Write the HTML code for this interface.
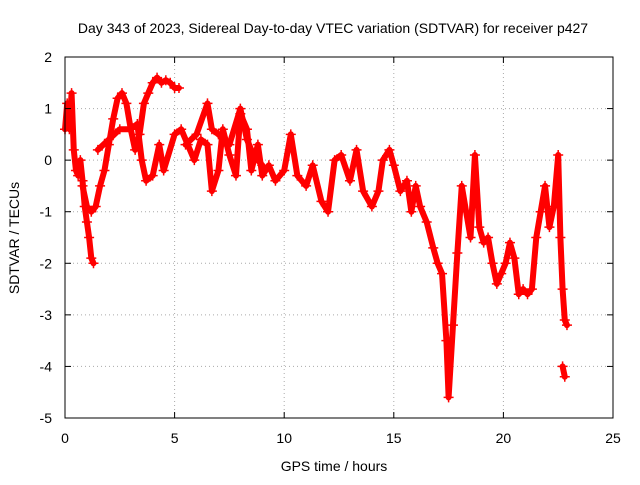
<!DOCTYPE html>
<html><head><meta charset="utf-8"><style>
body{margin:0;background:#fff;}
svg text{font-family:"Liberation Sans",sans-serif;font-size:14px;fill:#000;}
</style></head><body>
<svg id="chart" width="640" height="480">
<rect width="640" height="480" fill="#fff"/>
<text x="333" y="33" text-anchor="middle">Day 343 of 2023, Sidereal Day-to-day VTEC variation (SDTVAR) for receiver p427</text>
<text x="334" y="471" text-anchor="middle">GPS time / hours</text>
<text transform="translate(19,238) rotate(-90)" text-anchor="middle">SDTVAR / TECUs</text>
<g id="grid"></g><g id="series"></g>
<rect x="65" y="57" width="548" height="361" fill="none" stroke="#000"/>
<g id="ticks"></g>
</svg>
<script>
const xTicks=[0,5,10,15,20,25];
const yTicks=[2,1,0,-1,-2,-3,-4,-5];
const segTimes=[
[0,0.1,0.2,0.3,0.4,0.5,0.6,0.7,0.8,0.9,1.0,1.1,1.2,1.3],
[0.8,1.0,1.2,1.4,1.6,1.8,2.0,2.2,2.4,2.6,2.8,3.0,3.2,3.4,3.6,3.8,4.0,4.2,4.4,4.6,4.8,5.0,5.2],
[1.5,2.0,2.5,3.0,3.3,3.5,3.7,4.0,4.3,4.5,5.0,5.3,5.6,5.9,6.2,6.5,6.7,7.0,7.2,7.5,7.8,8.0,8.3,8.5,8.8,9.0,9.3,9.6,10.0,10.3,10.6,11.0,11.3,11.7,12.0,12.3,12.6,13.0,13.3,13.6,14.0,14.3,14.5,14.8,15.0,15.3,15.6,15.8,16.0,16.2,16.5,16.8,17.0,17.2,17.4,17.5,17.7,17.9,18.1,18.3,18.5,18.7,18.9,19.1,19.3,19.5,19.7,19.9,20.1,20.3,20.5,20.7,20.9,21.1,21.3,21.5,21.7,21.9,22.1,22.3,22.5,22.6,22.7,22.8,22.9],
[5.5,6.0,6.5,6.7,7.0,7.5,8.0,8.3,8.6,9.0],
[22.7,22.8]
];
const segValues=[
[0.6,1.1,0.6,1.3,0.2,-0.2,-0.3,0.0,-0.4,-0.9,-1.2,-1.5,-1.9,-2.0],
[-0.5,-0.9,-1.0,-0.9,-0.5,-0.2,0.3,0.8,1.2,1.3,1.1,0.6,0.2,0.5,1.1,1.3,1.5,1.6,1.5,1.55,1.5,1.4,1.4],
[0.2,0.4,0.6,0.6,0.7,0.0,-0.4,-0.3,0.3,-0.2,0.5,0.6,0.3,0.0,0.4,0.3,-0.6,-0.2,0.6,0.1,-0.3,0.9,0.6,-0.2,0.3,-0.3,-0.1,-0.4,-0.2,0.5,-0.3,-0.5,-0.1,-0.8,-1.0,0.0,0.1,-0.4,0.2,-0.6,-0.9,-0.6,0.0,0.2,-0.1,-0.6,-0.4,-1.0,-0.5,-0.9,-1.2,-1.7,-2.0,-2.2,-3.5,-4.6,-3.2,-1.8,-0.5,-1.0,-1.5,0.1,-1.3,-1.6,-1.5,-2.0,-2.4,-2.2,-2.0,-1.6,-1.9,-2.6,-2.5,-2.6,-2.5,-1.5,-1.0,-0.5,-1.3,-0.9,0.1,-1.5,-2.5,-3.1,-3.2],
[0.3,0.5,1.1,0.6,0.5,0.3,1.0,0.4,0.1,-0.1],
[-4.0,-4.2]
];
const X=t=>65+t*548/25, Y=v=>57+(2-v)*361/7;
const NS='http://www.w3.org/2000/svg';
const grid=document.getElementById('grid'),ticks=document.getElementById('ticks'),ser=document.getElementById('series');
function mk(tag,attrs,parent){const e=document.createElementNS(NS,tag);for(const k in attrs)e.setAttribute(k,attrs[k]);parent.appendChild(e);return e;}
xTicks.forEach(t=>{
 const x=X(t);
 if(t>0&&t<25){const g=mk('line',{x1:x,y1:57,x2:x,y2:418,stroke:'#aaa','stroke-dasharray':'1,3'},grid);
 
 }
 mk('line',{x1:x,y1:418,x2:x,y2:412,stroke:'#000'},ticks);mk('line',{x1:x,y1:57,x2:x,y2:63,stroke:'#000'},ticks);
 const l=mk('text',{x:x,y:443,'text-anchor':'middle'},ticks);l.textContent=t;
 
 
});
yTicks.forEach(v=>{
 const y=Y(v);
 if(v<2&&v>-5){const g=mk('line',{x1:65,y1:y,x2:613,y2:y,stroke:'#aaa','stroke-dasharray':'1,3'},grid);
 
 }
 mk('line',{x1:65,y1:y,x2:71,y2:y,stroke:'#000'},ticks);mk('line',{x1:613,y1:y,x2:607,y2:y,stroke:'#000'},ticks);
 const l=mk('text',{x:52,y:y+5,'text-anchor':'end'},ticks);l.textContent=v;
 
 
});
segTimes.forEach((ts,i)=>{
 const vs=segValues[i];
 const pl=mk('polyline',{points:ts.map((t,j)=>X(t)+','+Y(vs[j])).join(' '),fill:'none',stroke:'#f00','stroke-width':6,'stroke-linejoin':'round','stroke-linecap':'round'},ser);
 
 
 ts.forEach((t,j)=>{
  const x=X(t),y=Y(vs[j]);
  const p=mk('path',{d:`M${x-5},${y}H${x+5}M${x},${y-5}V${y+5}`,stroke:'#f00','stroke-width':1.5},ser);
  
  
 });
});
</script>
</body></html>
